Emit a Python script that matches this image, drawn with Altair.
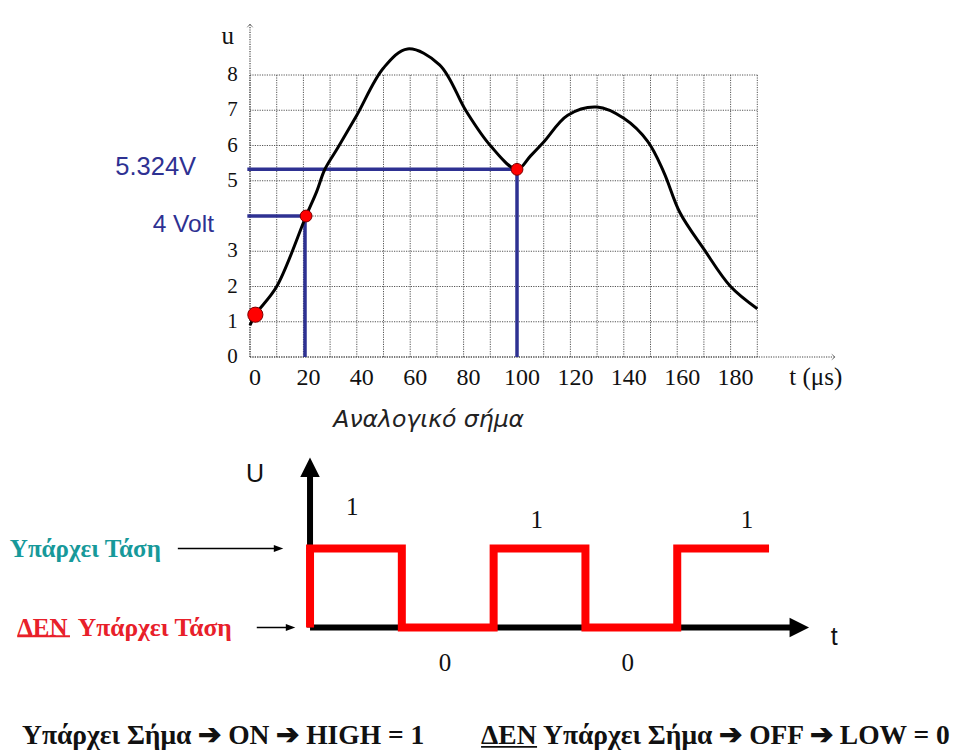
import altair as alt
import pandas as pd

# ---------------- data : analog signal (top graph) ----------------
t_us = [0, 2, 10, 21, 25, 28, 33, 40, 50, 59, 71, 81, 90, 100, 105, 110,
        119, 130, 140, 149, 155, 161, 170, 180, 190]
u_volt = [0.9, 1.2, 2.0, 4.0, 4.7, 5.32, 5.95, 6.86, 8.2, 8.74, 8.29, 6.97, 6.0,
          5.32, 5.7, 6.1, 6.86, 7.09, 6.77, 6.11, 5.24, 4.1, 3.06, 2.0, 1.37]
sample_t = [2, 21, 100]
sample_u = [1.2, 4.0, 5.324]
sample_size = [230, 140, 140]
x_ticks = [0, 20, 40, 60, 80, 100, 120, 140, 160, 180]
y_ticks = [0, 1, 2, 3, 5, 6, 7, 8]
grid_t = [0, 10, 20, 30, 40, 50, 60, 70, 80, 90, 100, 110, 120, 130, 140, 150,
          160, 170, 180, 190]
grid_u = [0, 1, 2, 3, 4, 5, 6, 7, 8]

# ---------------- data : digital signal (bottom graph) ----------------
wave_t = [0, 0, 1, 2, 3, 4, 5]
wave_U = [0, 1, 0, 1, 0, 1, 1]
one_t = [0.46, 2.47, 4.76]
one_U = [1.52, 1.36, 1.36]
zero_t = [1.47, 3.46]
zero_U = [-0.45, -0.45]

# ---------------- scales (layout) ----------------
W, H = 944, 743
TOP_X = [-90.64, 262.92]
TOP_Y = [-11.177, 9.901]
BOT_X = [-3.290, 6.993]
BOT_Y = [-1.563, 7.842]


def sc(dom):
    return alt.Scale(domain=dom, nice=False, zero=False)


def XT(f):
    return alt.X(f, type="quantitative", scale=sc(TOP_X), axis=None)


def YT(f):
    return alt.Y(f, type="quantitative", scale=sc(TOP_Y), axis=None)


def XB(f):
    return alt.X(f, type="quantitative", scale=sc(BOT_X), axis=None)


def YB(f):
    return alt.Y(f, type="quantitative", scale=sc(BOT_Y), axis=None)


SERIF = "Liberation Serif"
SANS = "Liberation Sans"
BLUE = "#2e3192"
TEAL = "#17999a"
RED_TXT = "#e8202a"
GRID = "#555"

layers = []

# ---- top graph grid ----
gv = pd.DataFrame({"t": grid_t, "u0": 0, "u1": 8})
layers.append(alt.Chart(gv).mark_rule(color=GRID, strokeWidth=1, strokeDash=[1.2, 1.2])
              .encode(x=XT("t"), y=YT("u0"), y2="u1"))
gh = pd.DataFrame({"u": grid_u, "t0": 0, "t1": 190})
layers.append(alt.Chart(gh).mark_rule(color=GRID, strokeWidth=1, strokeDash=[1.2, 1.2])
              .encode(y=YT("u"), x=XT("t0"), x2="t1"))

# axis lines (dotted) with small chevrons
ax = pd.DataFrame({"x0": [0, 0], "x1": [219, 0], "y0": [0, 0], "y1": [0, 9.45]})
layers.append(alt.Chart(ax).mark_rule(color="#444", strokeWidth=1.2, strokeDash=[1.2, 1.2])
              .encode(x=XT("x0"), x2="x1", y=YT("y0"), y2="y1"))
layers.append(alt.Chart(pd.DataFrame({"x": [0], "y": [9.4]}))
              .mark_point(shape="M-1,0.6L0,-0.6L1,0.6", filled=False, color="#555", size=30, strokeWidth=1)
              .encode(x=XT("x"), y=YT("y")))
layers.append(alt.Chart(pd.DataFrame({"x": [218.5], "y": [0]}))
              .mark_point(shape="M-0.6,-1L0.6,0L-0.6,1", filled=False, color="#555", size=30, strokeWidth=1)
              .encode(x=XT("x"), y=YT("y")))

# blue reading lines
bl = pd.DataFrame({"x0": [-1, 20.6, -1, 100], "x1": [21, 20.6, 100, 100],
                   "y0": [4, 0, 5.324, 0], "y1": [4, 4, 5.324, 5.324]})
layers.append(alt.Chart(bl).mark_rule(color=BLUE, strokeWidth=3.5)
              .encode(x=XT("x0"), x2="x1", y=YT("y0"), y2="y1"))

# analog curve
cv = pd.DataFrame({"t": t_us, "u": u_volt})
layers.append(alt.Chart(cv).mark_line(color="black", strokeWidth=3, interpolate="catmull-rom")
              .encode(x=XT("t"), y=YT("u")))

# sample points
sp = pd.DataFrame({"t": sample_t, "u": sample_u, "s": sample_size})
layers.append(alt.Chart(sp).mark_circle(color="#ff0000", opacity=1, stroke="#7a0000", strokeWidth=1)
              .encode(x=XT("t"), y=YT("u"), size=alt.Size("s", type="quantitative", scale=None, legend=None)))

# tick labels
xl = pd.DataFrame({"t": x_ticks, "u": -0.6, "lab": [str(v) for v in x_ticks]})
layers.append(alt.Chart(xl).mark_text(font=SERIF, fontSize=24, color="#111", align="center",
                                      baseline="middle", dx=5)
              .encode(x=XT("t"), y=YT("u"), text="lab"))
yl = pd.DataFrame({"t": -4.6, "u": y_ticks, "lab": [str(v) for v in y_ticks]})
layers.append(alt.Chart(yl).mark_text(font=SERIF, fontSize=21, color="#111", align="right",
                                      baseline="middle")
              .encode(x=XT("t"), y=YT("u"), text="lab"))


def text_layer(x, y, label, enc_x, enc_y, **style):
    df = pd.DataFrame({"x": [x], "y": [y], "lab": [label]})
    return alt.Chart(df).mark_text(**style).encode(x=enc_x("x"), y=enc_y("y"), text="lab")


layers.append(text_layer(-8.3, 9.1, "u", XT, YT, font=SERIF, fontSize=25, color="#111",
                         align="center", baseline="middle"))
layers.append(text_layer(202, -0.57, "t (μs)", XT, YT, font=SERIF, fontSize=25, color="#111",
                         align="left", baseline="middle"))
layers.append(text_layer(31.2, -1.79, "Αναλογικό σήμα", XT, YT, font="DejaVu Sans", fontSize=23.5,
                         fontStyle="italic", color="#222", align="left", baseline="middle"))
layers.append(text_layer(-20.2, 5.38, "5.324V", XT, YT, font=SANS, fontSize=25.5, color=BLUE,
                         align="right", baseline="middle"))
layers.append(text_layer(-13.5, 3.75, "4 Volt", XT, YT, font=SANS, fontSize=24.5, color=BLUE,
                         align="right", baseline="middle"))

# ---- bottom graph: axes with arrows ----
bax = pd.DataFrame({"x0": [0, 0], "x1": [5.3, 0], "y0": [0, 0], "y1": [0, 2.0]})
layers.append(alt.Chart(bax).mark_rule(color="black", strokeWidth=6)
              .encode(x=XB("x0"), x2="x1", y=YB("y0"), y2="y1"))
layers.append(alt.Chart(pd.DataFrame({"x": [0], "y": [2.03]}))
              .mark_point(shape="M0,-1L-1,1L1,1Z", filled=True, color="black", opacity=1, size=380)
              .encode(x=XB("x"), y=YB("y")))
layers.append(alt.Chart(pd.DataFrame({"x": [5.33], "y": [0]}))
              .mark_point(shape="M1,0L-1,-1L-1,1Z", filled=True, color="black", opacity=1, size=380)
              .encode(x=XB("x"), y=YB("y")))

# square wave
wv = pd.DataFrame({"t": wave_t, "U": wave_U, "o": list(range(len(wave_t)))})
layers.append(alt.Chart(wv).mark_line(color="#ff0000", strokeWidth=8, interpolate="step-after",
                                      strokeJoin="miter", strokeCap="butt")
              .encode(x=XB("t"), y=YB("U"), order="o"))

# bit labels
ol = pd.DataFrame({"t": one_t, "U": one_U, "lab": "1"})
layers.append(alt.Chart(ol).mark_text(font=SERIF, fontSize=25, color="#111", align="center", baseline="middle")
              .encode(x=XB("t"), y=YB("U"), text="lab"))
zl = pd.DataFrame({"t": zero_t, "U": zero_U, "lab": "0"})
layers.append(alt.Chart(zl).mark_text(font=SERIF, fontSize=25, color="#111", align="center", baseline="middle")
              .encode(x=XB("t"), y=YB("U"), text="lab"))
layers.append(text_layer(-0.6, 1.94, "U", XB, YB, font=SANS, fontSize=25, color="#111",
                         align="center", baseline="middle"))
layers.append(text_layer(5.71, -0.12, "t", XB, YB, font=SANS, fontSize=25, color="#111",
                         align="center", baseline="middle"))

# side labels with arrows
layers.append(text_layer(-3.27, 1.0, "Υπάρχει Τάση", XB, YB, font=SERIF, fontSize=25,
                         fontWeight="bold", color=TEAL, align="left", baseline="middle"))
layers.append(text_layer(-3.19, 0.0, "ΔΕΝ", XB, YB, font=SERIF, fontSize=25,
                         fontWeight="bold", color=RED_TXT, align="left", baseline="middle"))
layers.append(text_layer(-2.53, 0.0, "Υπάρχει Τάση", XB, YB, font=SERIF, fontSize=25.5,
                         fontWeight="bold", color=RED_TXT, align="left", baseline="middle"))
ul = pd.DataFrame({"x0": [-3.19], "x1": [-2.615], "y0": [-0.11]})
layers.append(alt.Chart(ul).mark_rule(color=RED_TXT, strokeWidth=2)
              .encode(x=XB("x0"), x2="x1", y=YB("y0")))
sa = pd.DataFrame({"x0": [-1.44, -0.58], "x1": [-0.34, -0.21], "y0": [1.0, 0.0]})
layers.append(alt.Chart(sa).mark_rule(color="black", strokeWidth=1.6)
              .encode(x=XB("x0"), x2="x1", y=YB("y0")))
sh = pd.DataFrame({"x": [-0.343, -0.212], "y": [1.0, 0.0]})
layers.append(alt.Chart(sh).mark_point(shape="M1,0L-1,-0.75L-1,0.75Z", filled=True, color="black",
                                       opacity=1, size=90)
              .encode(x=XB("x"), y=YB("y")))

# bottom statement line
BASE_U = -1.47
layers.append(text_layer(-3.137, BASE_U, "Υπάρχει Σήμα ➔ ON ➔ HIGH  =  1", XB, YB, font=SERIF,
                         fontSize=27.5, fontWeight="bold", color="#111", align="left",
                         baseline="alphabetic"))
layers.append(text_layer(1.863, BASE_U, "ΔΕΝ", XB, YB, font=SERIF, fontSize=27.5, fontWeight="bold",
                         color="#111", align="left", baseline="alphabetic"))
layers.append(text_layer(2.538, BASE_U, "Υπάρχει Σήμα ➔ OFF ➔ LOW  = 0", XB, YB, font=SERIF,
                         fontSize=27.5, fontWeight="bold", color="#111", align="left",
                         baseline="alphabetic"))
ul2 = pd.DataFrame({"x0": [1.863], "x1": [2.473], "y0": [BASE_U - 0.04]})
layers.append(alt.Chart(ul2).mark_rule(color="#111", strokeWidth=1.8)
              .encode(x=XB("x0"), x2="x1", y=YB("y0")))

chart = (alt.layer(*layers)
         .resolve_scale(x="independent", y="independent", size="independent")
         .properties(width=W, height=H, autosize=alt.AutoSizeParams(type="none"), padding=0,
                     background="white")
         .configure_view(stroke=None))

chart.save("out.html", embed_options={"renderer": "svg", "actions": False})
